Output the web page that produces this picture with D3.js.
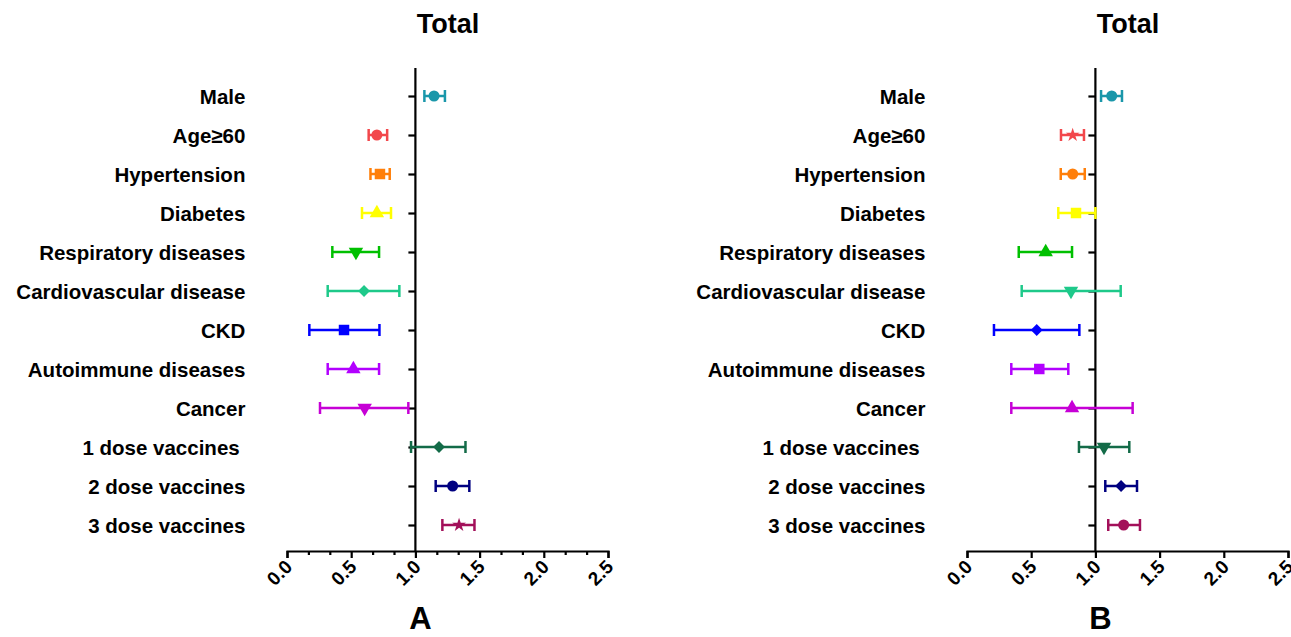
<!DOCTYPE html>
<html lang="en">
<head>
<meta charset="UTF-8">
<title>Forest plot - Total</title>
<script src="https://cdn.jsdelivr.net/npm/d3@7"></script>
<style>
  body { margin: 0; background: #fff; }
  text { font-family: Arial, "Liberation Sans", sans-serif; font-weight: bold; }
</style>
</head>
<body>
<svg id="chart" width="1291" height="637"></svg>
<script>
// rows, top to bottom
const categories = ["Male", "Age\u226560", "Hypertension", "Diabetes", "Respiratory diseases",
  "Cardiovascular disease", "CKD", "Autoimmune diseases", "Cancer",
  "1 dose vaccines ", "2 dose vaccines", "3 dose vaccines"];

const colors = ["#1a97aa", "#f2474b", "#ff7f0a", "#ffff00", "#00c000", "#1ec98a",
  "#0000ff", "#b200ff", "#c600d6", "#136b48", "#000080", "#a3105a"];

// panel A estimates
const estA = [1.145, 0.70, 0.724, 0.70, 0.537, 0.60, 0.444, 0.517, 0.605, 1.184, 1.29, 1.34];
const lowA = [1.07, 0.636, 0.65, 0.584, 0.353, 0.317, 0.174, 0.317, 0.257, 0.966, 1.158, 1.21];
const highA = [1.23, 0.78, 0.80, 0.81, 0.717, 0.875, 0.72, 0.717, 0.945, 1.39, 1.42, 1.46];
const shapesA = ["circle", "circle", "square", "up", "down", "diamond", "square", "up", "down", "diamond", "circle", "star"];

// panel B estimates
const estB = [1.127, 0.823, 0.823, 0.849, 0.613, 0.81, 0.543, 0.563, 0.818, 1.067, 1.20, 1.22];
const lowB = [1.044, 0.732, 0.73, 0.711, 0.403, 0.426, 0.21, 0.345, 0.345, 0.872, 1.077, 1.10];
const highB = [1.207, 0.911, 0.917, 1.0, 0.818, 1.197, 0.875, 0.789, 1.29, 1.264, 1.324, 1.347];
const shapesB = ["circle", "star", "circle", "square", "up", "down", "diamond", "square", "up", "down", "diamond", "circle"];

const xTicks = [0, 0.5, 1.0, 1.5, 2.0, 2.5];
const minorTicksA = [1/6, 2/6, 4/6, 5/6, 7/6, 8/6, 10/6, 11/6, 13/6, 14/6];

const svg = d3.select("#chart");

function symbolPath(shape) {
  if (shape == "circle") return d3.symbol(d3.symbolCircle, 95)();
  if (shape == "square") return d3.symbol(d3.symbolSquare, 110)();
  if (shape == "up" || shape == "down") return d3.symbol(d3.symbolTriangle, 90)();
  if (shape == "diamond") return d3.symbol(d3.symbolSquare, 70)();
  if (shape == "star") return d3.symbol(d3.symbolStar, 60)();
}
function symbolRot(shape) {
  if (shape == "down") return 180;
  if (shape == "diamond") return 45;
  return 0;
}

function drawPanel(opt) {
  const x = d3.scaleLinear().domain([0, 2.5]).range(opt.xr);
  const y = d3.scalePoint().domain(categories).range([96, 525]);
  const axisY = 551;
  const g = svg.append("g");

  // title and panel letter
  g.append("text").attr("x", opt.titleX).attr("y", 33).attr("text-anchor", "middle")
    .style("font-size", "27px").text("Total");
  g.append("text").attr("x", x(1) + 5).attr("y", 629).attr("text-anchor", "middle")
    .style("font-size", "31px").text(opt.letter);

  // x axis
  const xAxis = g.append("g").attr("transform", "translate(0," + axisY + ")")
    .call(d3.axisBottom(x).tickValues(xTicks).tickSize(7).tickSizeOuter(7).tickFormat(d3.format(".1f")));
  xAxis.select(".domain").attr("stroke-width", 2.2);
  xAxis.selectAll(".tick line").attr("stroke-width", 2.2);
  xAxis.selectAll(".tick text")
    .attr("text-anchor", "end")
    .attr("y", 0).attr("dy", 0)
    .attr("transform", "translate(6,17) rotate(-45)")
    .style("font-size", "19px").attr("fill", "#000");
  if (opt.minor) {
    const m = g.append("g").attr("transform", "translate(0," + axisY + ")")
      .call(d3.axisBottom(x).tickValues(minorTicksA).tickSize(4).tickFormat(""));
    m.select(".domain").remove();
    m.selectAll(".tick line").attr("stroke-width", 2.2);
  }

  // category axis at x = 1.0
  const yAxis = g.append("g").attr("transform", "translate(" + x(1) + ",0)")
    .call(d3.axisLeft(y).tickSize(7).tickSizeOuter(0).tickPadding(163));
  yAxis.select(".domain").attr("d", "M0,68V" + axisY).attr("stroke-width", 2.2);
  yAxis.selectAll(".tick line").attr("stroke-width", 2.2);
  yAxis.selectAll(".tick text").style("font-size", "20.5px").attr("fill", "#000")
    .style("white-space", "pre").attr("dy", "0.35em");

  // error bars
  const rows = categories.map((c, i) => ({c: c, i: i, est: opt.est[i], lo: opt.low[i], hi: opt.high[i], shape: opt.shapes[i]}));
  const bars = g.selectAll(".bar").data(rows).enter().append("g").attr("class", "bar")
    .attr("stroke", d => colors[d.i]).attr("fill", d => colors[d.i]);
  bars.append("line").attr("x1", d => x(d.lo)).attr("x2", d => x(d.hi))
    .attr("y1", d => y(d.c)).attr("y2", d => y(d.c)).attr("stroke-width", 2.5);
  bars.append("line").attr("x1", d => x(d.lo)).attr("x2", d => x(d.lo))
    .attr("y1", d => y(d.c) - 6).attr("y2", d => y(d.c) + 6).attr("stroke-width", 2.5);
  bars.append("line").attr("x1", d => x(d.hi)).attr("x2", d => x(d.hi))
    .attr("y1", d => y(d.c) - 6).attr("y2", d => y(d.c) + 6).attr("stroke-width", 2.5);
  bars.append("path").attr("d", d => symbolPath(d.shape)).attr("stroke", "none")
    .attr("transform", d => "translate(" + x(d.est) + "," + y(d.c) + ") rotate(" + symbolRot(d.shape) + ")");
}

drawPanel({xr: [287, 608], titleX: 448, letter: "A", minor: true, est: estA, low: lowA, high: highA, shapes: shapesA});
drawPanel({xr: [967, 1288], titleX: 1128, letter: "B", minor: false, est: estB, low: lowB, high: highB, shapes: shapesB});
</script>
</body>
</html>
